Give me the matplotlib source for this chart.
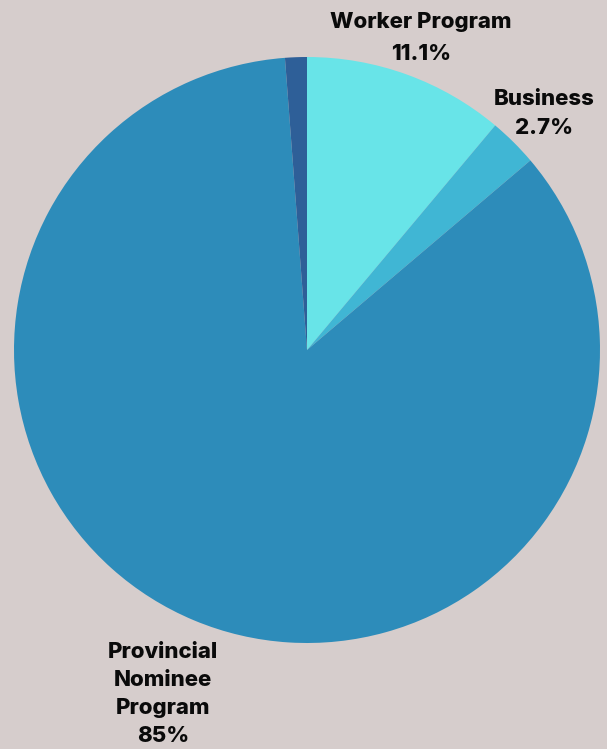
import matplotlib
matplotlib.use("Agg")
import matplotlib.pyplot as plt

categories = ["Worker Program", "Business", "Provincial Nominee Program", "Other"]
values = [11.1, 2.7, 85.0, 1.2]
labels = ["Worker Program\n11.1%", "Business\n2.7%", "Provincial\nNominee\nProgram\n85%", ""]
colors = ["#68e4e8", "#40b6d4", "#2d8cba", "#2e5f98"]

bg = "#d6cdcc"
W, H = 607, 749
cx, cy, R = 307, 350, 293

fig = plt.figure(figsize=(W / 100, H / 100), dpi=100, facecolor=bg)
ax = fig.add_axes([0, 0, 1, 1])
ax.set_facecolor(bg)
ax.pie(values, colors=colors, startangle=90, counterclock=False, radius=1.0,
       wedgeprops=dict(linewidth=0))
ax.set_xlim(-cx / R, (W - cx) / R)
ax.set_ylim(-(H - cy) / R, cy / R)
ax.set_aspect("auto")
ax.axis("off")

# label positions in pixels (text centers) and line spacings
label_pos = [(421, 38), (544, 113.5), (163, 694)]
label_ls = [1.76, 1.51, 1.51]
for lab, (px, py), ls in zip(labels[:3], label_pos, label_ls):
    ax.text((px - cx) / R, (cy - py) / R, lab, ha="center", va="center",
            fontsize=16, fontweight="heavy",
            family=["Inter", "DejaVu Sans"], color="#0a0a0a",
            linespacing=ls)

fig.savefig("out.png", dpi=100, facecolor=bg)
